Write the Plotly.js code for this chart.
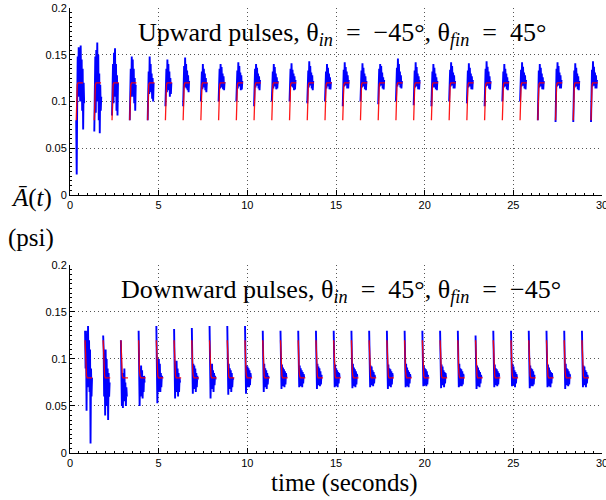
<!DOCTYPE html>
<html>
<head>
<meta charset="utf-8">
<script src="https://cdn.plot.ly/plotly-3.0.1.min.js"></script>
<style>html,body{margin:0;padding:0;background:#fff;}</style>
</head>
<body>
<div id="chart" style="width:606px;height:500px;"></div>
<script>
// ---------- DATA ----------
var xTicks = [0, 5, 10, 15, 20, 25, 30];
var yTicks = [0, 0.05, 0.1, 0.15, 0.2];
var yTickText = ["0", "0.05", "0.1", "0.15", "0.2"];

// Upward pulses: start time of each pulse (s)
var upStart = [0.35,1.37,2.37,3.37,4.38,5.38,6.38,7.38,8.38,9.38,10.38,11.38,12.38,13.38,14.38,
               15.38,16.38,17.38,18.38,19.38,20.38,21.38,22.38,23.38,24.38,25.38,26.38,27.38,28.38,29.38];
// Upward pulses: measured A(t) samples within each pulse window (psi)
var upMeas = [
 [0.08,0.022,0.10,0.148,0.105,0.158,0.118,0.15,0.10,0.16,0.112,0.145,0.09,0.135,0.07,0.12,0.098],
 [0.068,0.10,0.148,0.088,0.155,0.115,0.163,0.10,0.15,0.08,0.13,0.066,0.118,0.09,0.105],
 [0.085,0.105,0.14,0.098,0.152,0.115,0.157,0.105,0.14,0.09,0.128,0.085,0.12],
 [0.08,0.10,0.135,0.105,0.148,0.118,0.145,0.105,0.135,0.098,0.125,0.09,0.118],
 [0.08,0.10,0.132,0.108,0.148,0.118,0.14,0.11,0.13,0.103,0.125,0.10,0.12],
 [0.095,0.115,0.135,0.11,0.145,0.118,0.14,0.112,0.132,0.105,0.125,0.108,0.12],
 [0.095,0.112,0.138,0.115,0.147,0.12,0.14,0.114,0.133,0.112,0.128,0.11,0.122],
 [0.10,0.115,0.132,0.113,0.14,0.12,0.135,0.115,0.13,0.112,0.125,0.11,0.12],
 [0.10,0.116,0.135,0.114,0.14,0.12,0.137,0.115,0.13,0.113,0.127,0.112,0.121],
 [0.10,0.117,0.133,0.114,0.142,0.12,0.138,0.116,0.131,0.112,0.128,0.113,0.122],
 [0.095,0.115,0.135,0.115,0.14,0.12,0.136,0.117,0.13,0.114,0.127,0.112,0.123],
 [0.10,0.116,0.132,0.114,0.14,0.121,0.137,0.116,0.13,0.113,0.126,0.114,0.122],
 [0.10,0.117,0.135,0.116,0.141,0.12,0.134,0.115,0.13,0.112,0.127,0.113,0.123],
 [0.098,0.116,0.133,0.115,0.143,0.121,0.138,0.117,0.131,0.114,0.128,0.112,0.122],
 [0.10,0.115,0.132,0.114,0.14,0.12,0.136,0.116,0.13,0.113,0.126,0.113,0.121],
 [0.095,0.117,0.134,0.116,0.142,0.122,0.137,0.117,0.132,0.114,0.128,0.114,0.123],
 [0.10,0.116,0.133,0.115,0.141,0.121,0.136,0.116,0.13,0.113,0.127,0.112,0.122],
 [0.097,0.117,0.135,0.116,0.14,0.12,0.138,0.117,0.131,0.114,0.126,0.113,0.123],
 [0.10,0.118,0.136,0.116,0.146,0.122,0.14,0.118,0.132,0.115,0.128,0.114,0.122],
 [0.096,0.116,0.133,0.115,0.142,0.121,0.137,0.116,0.13,0.113,0.127,0.113,0.123],
 [0.095,0.115,0.132,0.115,0.14,0.12,0.136,0.115,0.13,0.113,0.126,0.112,0.122],
 [0.10,0.117,0.134,0.116,0.142,0.121,0.138,0.117,0.131,0.114,0.128,0.114,0.122],
 [0.098,0.116,0.133,0.115,0.141,0.12,0.136,0.116,0.13,0.113,0.127,0.113,0.123],
 [0.095,0.117,0.135,0.116,0.143,0.122,0.137,0.117,0.132,0.114,0.127,0.113,0.122],
 [0.10,0.116,0.132,0.115,0.14,0.12,0.135,0.116,0.13,0.113,0.126,0.112,0.122],
 [0.10,0.117,0.134,0.116,0.142,0.121,0.137,0.117,0.131,0.114,0.128,0.113,0.123],
 [0.08,0.116,0.133,0.115,0.14,0.12,0.136,0.116,0.13,0.113,0.126,0.113,0.122],
 [0.078,0.117,0.135,0.116,0.142,0.121,0.138,0.117,0.131,0.114,0.128,0.114,0.123],
 [0.078,0.116,0.133,0.115,0.141,0.12,0.136,0.116,0.13,0.113,0.127,0.112,0.122],
 [0.078,0.117,0.134,0.116,0.143,0.121,0.137,0.117,0.131,0.114,0.128,0.114,0.123]
];
// Upward pulses: model response within one pulse (time offset s, value psi)
var upModelT = [0, 0.03, 0.06, 0.10, 0.38];
var upModelV = [0.08, 0.11, 0.118, 0.12, 0.12];

// Downward pulses
var downStart = [0.85,1.87,2.87,3.87,4.87,5.87,6.87,7.87,8.87,9.87,10.87,11.87,12.87,13.87,14.87,
                 15.87,16.87,17.87,18.87,19.87,20.87,21.87,22.87,23.87,24.87,25.87,26.87,27.87,28.87];
var downMeas = [
 [0.13,0.09,0.125,0.045,0.13,0.07,0.135,0.08,0.12,0.065,0.11,0.01,0.09,0.06,0.08],
 [0.125,0.11,0.06,0.10,0.04,0.11,0.055,0.10,0.05,0.09,0.035,0.085,0.06,0.075],
 [0.12,0.09,0.05,0.085,0.048,0.08,0.055,0.09,0.06,0.075,0.05,0.07,0.06],
 [0.13,0.085,0.05,0.09,0.06,0.093,0.065,0.088,0.058,0.08,0.065,0.082,0.075],
 [0.135,0.085,0.053,0.09,0.065,0.10,0.07,0.095,0.065,0.085,0.07,0.082,0.08],
 [0.132,0.085,0.058,0.09,0.065,0.098,0.07,0.09,0.06,0.085,0.065,0.08,0.075],
 [0.133,0.09,0.063,0.095,0.068,0.093,0.07,0.09,0.065,0.085,0.07,0.082,0.078],
 [0.135,0.085,0.058,0.09,0.068,0.095,0.07,0.088,0.065,0.085,0.072,0.082,0.078],
 [0.135,0.09,0.062,0.095,0.068,0.09,0.07,0.088,0.065,0.085,0.07,0.08,0.078],
 [0.135,0.09,0.063,0.093,0.07,0.092,0.072,0.09,0.07,0.088,0.072,0.085,0.08],
 [0.13,0.09,0.065,0.095,0.07,0.09,0.072,0.088,0.068,0.085,0.073,0.082,0.08],
 [0.13,0.088,0.068,0.094,0.072,0.091,0.071,0.089,0.07,0.087,0.073,0.085,0.08],
 [0.13,0.09,0.07,0.093,0.071,0.09,0.073,0.088,0.07,0.086,0.074,0.084,0.08],
 [0.13,0.087,0.068,0.095,0.072,0.092,0.072,0.09,0.071,0.087,0.073,0.083,0.081],
 [0.13,0.089,0.07,0.094,0.071,0.09,0.072,0.088,0.07,0.086,0.074,0.085,0.08],
 [0.13,0.088,0.069,0.095,0.073,0.091,0.071,0.089,0.07,0.087,0.073,0.084,0.081],
 [0.13,0.09,0.07,0.093,0.072,0.092,0.073,0.088,0.071,0.086,0.074,0.083,0.08],
 [0.13,0.087,0.068,0.094,0.071,0.09,0.072,0.089,0.07,0.087,0.073,0.085,0.081],
 [0.13,0.089,0.07,0.095,0.072,0.091,0.071,0.088,0.07,0.086,0.074,0.084,0.08],
 [0.13,0.088,0.071,0.093,0.073,0.09,0.072,0.089,0.071,0.087,0.073,0.083,0.081],
 [0.13,0.09,0.069,0.094,0.072,0.092,0.073,0.088,0.07,0.086,0.074,0.085,0.08],
 [0.13,0.087,0.07,0.095,0.071,0.09,0.072,0.089,0.071,0.087,0.073,0.084,0.081],
 [0.125,0.089,0.068,0.093,0.072,0.091,0.071,0.088,0.07,0.086,0.074,0.083,0.08],
 [0.13,0.088,0.07,0.094,0.073,0.09,0.072,0.089,0.071,0.087,0.073,0.085,0.081],
 [0.13,0.09,0.071,0.095,0.072,0.092,0.073,0.088,0.07,0.086,0.074,0.084,0.08],
 [0.13,0.087,0.069,0.093,0.071,0.09,0.072,0.089,0.071,0.087,0.073,0.083,0.081],
 [0.13,0.089,0.07,0.094,0.072,0.091,0.071,0.088,0.07,0.086,0.074,0.085,0.08],
 [0.13,0.088,0.068,0.095,0.073,0.09,0.072,0.089,0.071,0.087,0.073,0.084,0.081],
 [0.13,0.09,0.07,0.093,0.072,0.092,0.073,0.088,0.07,0.086,0.074,0.083,0.08]
];
var downModelT = [0, 0.02, 0.05, 0.08, 0.12, 0.40];
var downModelV = [0.12, 0.10, 0.087, 0.082, 0.08, 0.08];

var sampleStep = 0.028; // sampling interval of the measured signal (s)

// ---------- build traces ----------
function buildMeas(starts, meas) {
  var x = [], y = [];
  for (var i = 0; i < starts.length; i++) {
    for (var j = 0; j < meas[i].length; j++) {
      x.push(starts[i] + j * sampleStep); y.push(meas[i][j]);
    }
    x.push(null); y.push(null);
  }
  return {x: x, y: y};
}
function buildModel(starts, mt, mv) {
  var x = [], y = [];
  for (var i = 0; i < starts.length; i++) {
    for (var j = 0; j < mt.length; j++) { x.push(starts[i] + mt[j]); y.push(mv[j]); }
    x.push(null); y.push(null);
  }
  return {x: x, y: y};
}
var um = buildMeas(upStart, upMeas), ur = buildModel(upStart, upModelT, upModelV);
var dm = buildMeas(downStart, downMeas), dr = buildModel(downStart, downModelT, downModelV);

var traces = [
  {x: um.x, y: um.y, xaxis: 'x', yaxis: 'y', mode: 'lines', line: {color: '#0000ff', width: 1.9}, connectgaps: false, hoverinfo: 'skip'},
  {x: ur.x, y: ur.y, xaxis: 'x', yaxis: 'y', mode: 'lines', line: {color: '#ff0000', width: 1.3}, opacity: 0.9, connectgaps: false, hoverinfo: 'skip'},
  {x: dm.x, y: dm.y, xaxis: 'x2', yaxis: 'y2', mode: 'lines', line: {color: '#0000ff', width: 1.9}, connectgaps: false, hoverinfo: 'skip'},
  {x: dr.x, y: dr.y, xaxis: 'x2', yaxis: 'y2', mode: 'lines', line: {color: '#ff0000', width: 1.3}, opacity: 0.9, connectgaps: false, hoverinfo: 'skip'}
];

var tickFont = {family: 'Liberation Sans, Arial, sans-serif', size: 11, color: '#000'};
function xAxis(anchor) {
  return {
    anchor: anchor, domain: [0, 1], range: [0, 30], tickvals: xTicks, ticktext: xTicks.map(String),
    ticks: 'inside', ticklen: 5, tickcolor: '#000', showline: true, linecolor: '#000', linewidth: 1,
    showgrid: true, gridcolor: '#555', griddash: '1px,3px', gridwidth: 1, zeroline: false,
    tickfont: tickFont, ticklabeloverflow: 'allow',
    minor: {ticks: 'inside', ticklen: 2, dtick: 0.5, tickcolor: '#000', showgrid: false}
  };
}
function yAxis(anchor, dom) {
  return {
    anchor: anchor, domain: dom, range: [0, 0.2], tickvals: yTicks, ticktext: yTickText,
    ticks: 'inside', ticklen: 5, tickcolor: '#000', showline: true, linecolor: '#000', linewidth: 1,
    showgrid: true, gridcolor: '#555', griddash: '1px,3px', gridwidth: 1, zeroline: false,
    tickfont: tickFont, ticklabeloverflow: 'allow',
    minor: {ticks: 'inside', ticklen: 2, dtick: 0.005, tickcolor: '#000', showgrid: false}
  };
}

var serif = 'Liberation Serif, Times New Roman, serif';
var sp = '\u2002';
var layout = {
  width: 606, height: 500,
  margin: {l: 70, r: 4, t: 8, b: 47},
  paper_bgcolor: '#fff', plot_bgcolor: '#fff',
  showlegend: false,
  xaxis: xAxis('y'),
  yaxis: yAxis('x', [0.5798, 1]),
  xaxis2: xAxis('y2'),
  yaxis2: yAxis('x2', [0, 0.4225]),
  annotations: [
    {xref: 'x', yref: 'y', x: 15.35, y: 0.1725, xanchor: 'center', yanchor: 'middle', showarrow: false,
     text: 'Upward pulses, θ<sub><i>in</i></sub>' + sp + '=' + sp + '−45°, θ<sub><i>fin</i></sub>' + sp + '=' + sp + '45°',
     font: {family: serif, size: 26, color: '#000'}},
    {xref: 'x2', yref: 'y2', x: 15.3, y: 0.172, xanchor: 'center', yanchor: 'middle', showarrow: false,
     text: 'Downward pulses, θ<sub><i>in</i></sub>' + sp + '=' + sp + '45°, θ<sub><i>fin</i></sub>' + sp + '=' + sp + '−45°',
     font: {family: serif, size: 26, color: '#000'}},
    {xref: 'paper', yref: 'paper', x: -0.073, y: 0.574, xanchor: 'center', yanchor: 'middle', showarrow: false,
     text: '<i>Ā</i>(<i>t</i>)', font: {family: serif, size: 25, color: '#000'}},
    {xref: 'paper', yref: 'paper', x: -0.073, y: 0.483, xanchor: 'center', yanchor: 'middle', showarrow: false,
     text: '(psi)', font: {family: serif, size: 25, color: '#000'}},
    {xref: 'paper', yref: 'paper', x: 0.515, y: -0.067, xanchor: 'center', yanchor: 'middle', showarrow: false,
     text: 'time (seconds)', font: {family: serif, size: 25, color: '#000'}}
  ]
};

Plotly.newPlot('chart', traces, layout, {staticPlot: true, displayModeBar: false});
</script>
</body>
</html>
